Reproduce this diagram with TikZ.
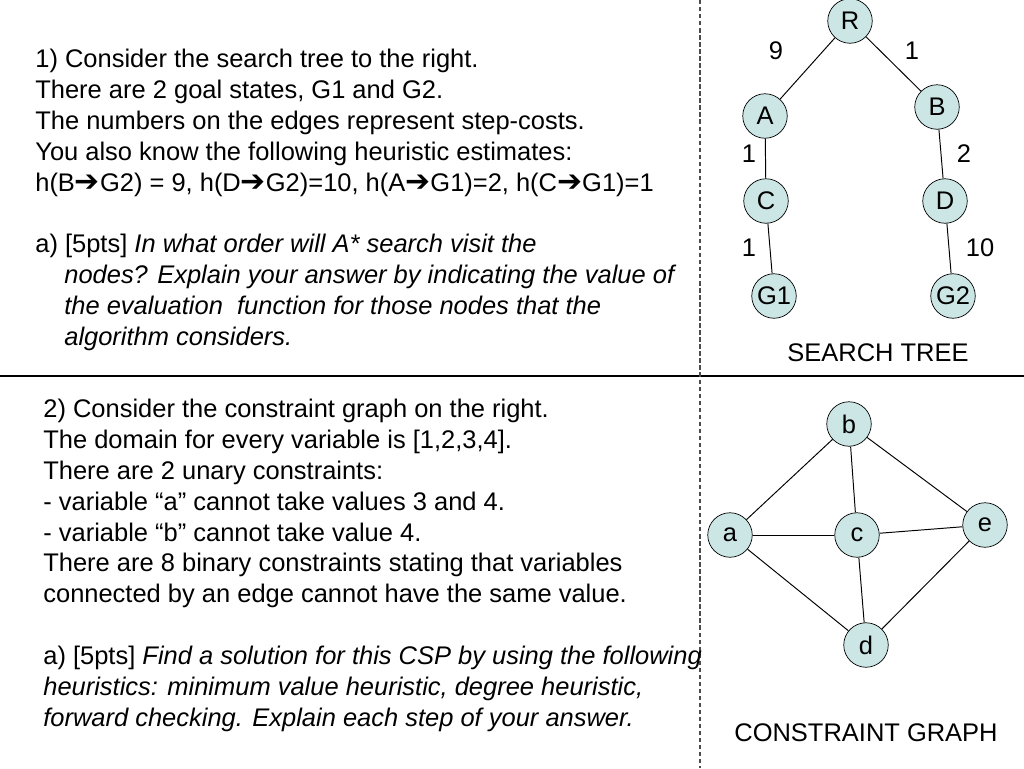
\documentclass[tikz,border=0pt]{standalone}
\usepackage{fontspec}
\setmainfont{Liberation Sans}
\newfontfamily\arrowfont{DejaVu Sans}
\newcommand{\goesto}{{\arrowfont\fontsize{17}{17.6}\selectfont ➔}}
\definecolor{nodefill}{RGB}{204,230,230}
\tikzset{
  vertex/.style={circle,draw=black,fill=nodefill,minimum size=0.89cm,inner sep=0pt,font=\fontsize{14.5}{17}\selectfont},
  edge/.style={draw=black,line width=0.55pt},
  cost/.style={font=\fontsize{14.5}{17}\selectfont},
  block/.style={anchor=north west,align=left,inner sep=0pt,font=\fontsize{14.5}{17.6}\selectfont}
}
\begin{document}
\begin{tikzpicture}[x=0.02cm,y=-0.02cm]
\useasboundingbox (0,0) rectangle (1024,768);
% frame lines
\draw[line width=0.7pt] (0,376)--(1024,376);
\draw[black!70,line width=0.6pt,dash pattern=on 2.5pt off 1.5pt] (700,0)--(700,768);
% question 1
\node[block] (qone) at (35,48.5) {1) Consider the search tree to the right.\\
There are 2 goal states, G1 and G2.\\
The numbers on the edges represent step-costs.\\
You also know the following heuristic estimates:\\
h(B\goesto G2) = 9, h(D\goesto G2)=10, h(A\goesto G1)=2, h(C\goesto G1)=1\\[17.6pt]
a) [5pts] \textit{In what order will A* search visit the}\\
\hspace*{0.58cm}\textit{nodes? Explain your answer by indicating the value of}\\
\hspace*{0.58cm}\textit{the evaluation~ function for those nodes that the}\\
\hspace*{0.58cm}\textit{algorithm considers.}};
% search tree
\node[vertex] (R) at (850,21) {R};
\node[vertex] (A) at (765,116) {A};
\node[vertex] (B) at (937,107) {B};
\node[vertex] (C) at (766,201) {C};
\node[vertex] (D) at (945,201) {D};
\node[vertex] (G1) at (774,296) {G1};
\node[vertex] (G2) at (953,296) {G2};
\draw[edge] (R)--(A);
\draw[edge] (R)--(B);
\draw[edge] (A)--(C);
\draw[edge] (C)--(G1);
\draw[edge] (B)--(D);
\draw[edge] (D)--(G2);
\node[cost] (cRA) at (776,51) {9};
\node[cost] (cRB) at (912,51) {1};
\node[cost] (cAC) at (749,154) {1};
\node[cost] (cBD) at (964,154) {2};
\node[cost] (cCG) at (749,248) {1};
\node[cost] (cDG) at (980,248) {10};
\node[cost] (treetitle) at (878,353) {SEARCH TREE};
% question 2
\node[block] (qtwo) at (43,398.5) {2) Consider the constraint graph on the right.\\
The domain for every variable is [1,2,3,4].\\
There are 2 unary constraints:\\
- variable “a” cannot take values 3 and 4.\\
- variable “b” cannot take value 4.\\
There are 8 binary constraints stating that variables\\
connected by an edge cannot have the same value.\\[17.6pt]
a) [5pts] \textit{Find a solution for this CSP by using the following}\\
\textit{heuristics: minimum value heuristic, degree heuristic,}\\
\textit{forward checking. Explain each step of your answer.}};
% constraint graph
\node[vertex] (b) at (849,424) {b};
\node[vertex] (a) at (730,535) {a};
\node[vertex] (c) at (857,535) {c};
\node[vertex] (e) at (985,525) {e};
\node[vertex] (d) at (866,645) {d};
\foreach \u/\v in {a/b,b/c,b/e,a/c,c/e,a/d,c/d,e/d}
  \draw[edge] (\u)--(\v);
\node[cost] (graphtitle) at (866,733) {CONSTRAINT GRAPH};
\end{tikzpicture}
\end{document}
